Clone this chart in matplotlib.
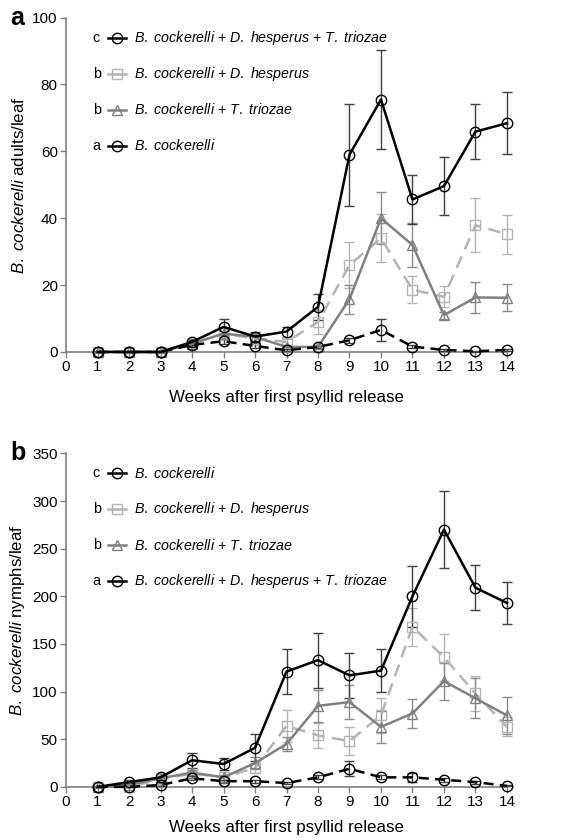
import matplotlib
matplotlib.use("Agg")
import matplotlib.pyplot as plt

plt.rcParams["font.family"] = ["Liberation Sans", "DejaVu Sans"]
plt.rcParams["mathtext.fontset"] = "custom"
plt.rcParams["mathtext.rm"] = "Liberation Sans"
plt.rcParams["mathtext.it"] = "Liberation Sans:italic"

weeks = list(range(1, 15))

# panel a: adults per leaf
a_bc = [0, 0, 0, 3, 7.5, 4.6, 6.1, 13.5, 59, 75.5, 45.6, 49.6, 65.9, 68.4]
a_bc_err = [0, 0, 0, 0.8, 2.5, 1.5, 1.5, 3.8, 15.3, 14.8, 7.3, 8.6, 8.2, 9.3]
a_dh = [0, 0, 0, 2.5, 5.5, 4, 3, 9, 26, 34, 18.6, 16.5, 37.9, 35.2]
a_dh_err = [0, 0, 0, 0.6, 1.5, 1.2, 1, 3.5, 6.8, 7.2, 4, 3.2, 8, 5.8]
a_tt = [0, 0, 0, 2.5, 5.5, 4.5, 1.5, 1.5, 15.8, 40, 32, 11, 16.3, 16.2]
a_tt_err = [0, 0, 0, 0.6, 1.5, 1.2, 0.5, 0.5, 4.3, 7.8, 6.5, 1, 4.5, 4]
a_all = [0, 0, 0, 2.1, 3.2, 1.8, 0.5, 1.5, 3.5, 6.6, 1.6, 0.6, 0.2, 0.6]
a_all_err = [0, 0, 0, 0.5, 0.7, 0.5, 0.3, 0.4, 0.8, 3.4, 0.5, 0.3, 0.2, 0.3]

# panel b: nymphs per leaf
b_bc = [0, 5, 10, 28, 24, 41, 121, 133, 117, 122, 200, 270, 209, 193]
b_bc_err = [0, 2, 3, 8, 6.5, 14, 24, 29, 23.5, 22.5, 32, 40, 23.5, 22]
b_dh = [0, 0, 8, 14, 10, 20, 64, 54, 48, 75, 168, 136, 98, 63]
b_dh_err = [0, 0.5, 2, 3, 2.5, 5, 17, 13.5, 15, 18, 20, 24.5, 18.5, 10]
b_tt = [0, 2, 9, 15, 10, 25, 45, 85, 89, 63, 77, 111, 93, 75]
b_tt_err = [0, 1, 2, 3, 2.5, 6, 7.5, 17, 18, 17, 15, 19.5, 21, 19.5]
b_all = [0, 0, 2, 9, 6, 6, 4, 10, 19, 10, 10, 7.5, 5, 1]
b_all_err = [0, 0.5, 1, 2, 1.5, 1.5, 1, 2, 8, 2, 5, 2, 1.5, 0.5]

lab_bc = r"$\mathit{B.\ cockerelli}$"
lab_dh = r"$\mathit{B.\ cockerelli}$ + $\mathit{D.\ hesperus}$"
lab_tt = r"$\mathit{B.\ cockerelli}$ + $\mathit{T.\ triozae}$"
lab_all = r"$\mathit{B.\ cockerelli}$ + $\mathit{D.\ hesperus}$ + $\mathit{T.\ triozae}$"

styles = {
    "bc": dict(color="black", ls="-", marker="o", ecolor="#404040", lw=1.8),
    "dh": dict(color="#b4b4b4", ls=(0, (5, 3)), marker="s", ecolor="#b4b4b4", lw=1.8),
    "tt": dict(color="#808080", ls="-", marker="^", ecolor="#8c8c8c", lw=1.8),
    "all": dict(color="black", ls=(0, (4, 2.5)), marker="o", ecolor="#404040", lw=1.8),
}

spine_col = "#808080"

fig = plt.figure(figsize=(5.8, 8.38), dpi=100)
ax_a = fig.add_axes([0.114, 0.58, 0.76, 0.399])
ax_b = fig.add_axes([0.114, 0.061, 0.76, 0.398])


def draw(ax, series, legend_rows, ymax, ystep, ylabel, letter, xpad):
    for key, y, e in series:
        st = styles[key]
        ax.errorbar(weeks, y, yerr=e, color=st["color"], ls=st["ls"], lw=st["lw"],
                    marker=st["marker"], ms=7.5, mfc="none", mec=st["color"], mew=1.0,
                    ecolor=st["ecolor"], elinewidth=1.0, capsize=3.5, capthick=1.0,
                    clip_on=False, zorder=3)
    ax.set_xlim(0, 14)
    ax.set_ylim(0, ymax)
    ax.set_xticks(range(0, 15))
    ax.set_yticks(range(0, ymax + 1, ystep))
    for s in ["top", "right"]:
        ax.spines[s].set_visible(False)
    for s in ["left", "bottom"]:
        ax.spines[s].set_color(spine_col)
        ax.spines[s].set_linewidth(1.2)
    ax.tick_params(direction="out", length=4, width=1, color=spine_col,
                   labelsize=11, pad=2)
    ax.set_xlabel("Weeks after first psyllid release", fontsize=12.2, labelpad=xpad)
    ax.set_ylabel(ylabel, fontsize=12.2, labelpad=4)
    ax.text(-0.127, 1.0, letter, transform=ax.transAxes, fontsize=18,
            fontweight="bold", va="center", ha="left")

    # legend rows: group letter, line key, label
    y0, dy = 0.94, 0.108
    for i, (grp, key, label) in enumerate(legend_rows):
        st = styles[key]
        yy = y0 - i * dy
        ax.text(0.06, yy, grp, transform=ax.transAxes, fontsize=10.3, va="center")
        ax.plot([0.095, 0.135], [yy, yy], transform=ax.transAxes, color=st["color"],
                ls="-", lw=st["lw"], clip_on=False)
        ax.plot([0.115], [yy], transform=ax.transAxes, marker=st["marker"], ms=7.5,
                mfc="none", mec=st["color"], mew=1.0, clip_on=False)
        ax.text(0.153, yy, label, transform=ax.transAxes, fontsize=10.3, va="center")


draw(ax_a,
     [("dh", a_dh, a_dh_err), ("tt", a_tt, a_tt_err),
      ("all", a_all, a_all_err), ("bc", a_bc, a_bc_err)],
     [("c", "all", lab_all), ("b", "dh", lab_dh), ("b", "tt", lab_tt), ("a", "bc", lab_bc)],
     100, 20, lab_bc + " adults/leaf", "a", 11)

draw(ax_b,
     [("dh", b_dh, b_dh_err), ("tt", b_tt, b_tt_err),
      ("all", b_all, b_all_err), ("bc", b_bc, b_bc_err)],
     [("c", "bc", lab_bc), ("b", "dh", lab_dh), ("b", "tt", lab_tt), ("a", "all", lab_all)],
     350, 50, lab_bc + " nymphs/leaf", "b", 8)

fig.savefig("out.png", dpi=100)
